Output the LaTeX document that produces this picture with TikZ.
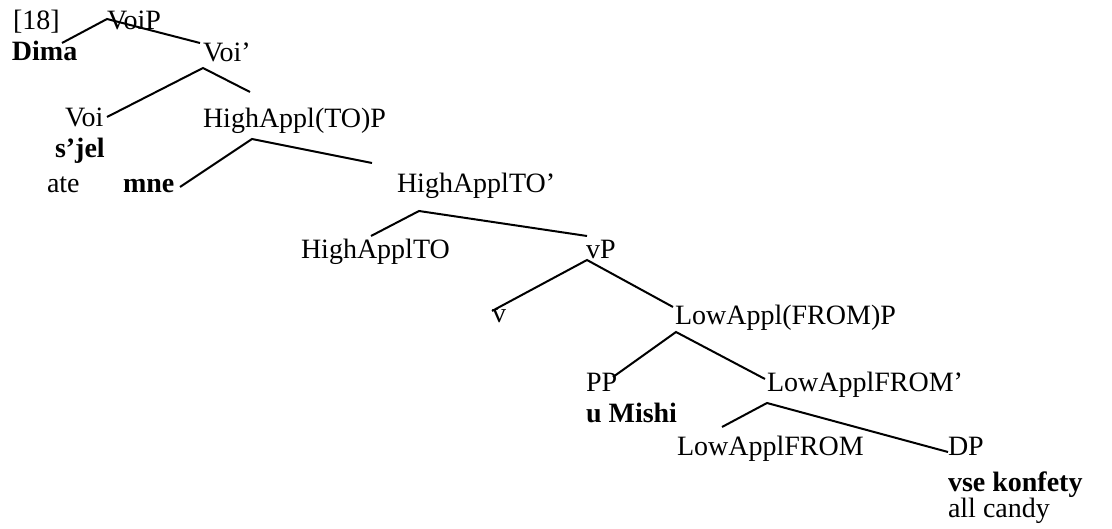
\documentclass[tikz,border=0pt]{standalone}
\usepackage{fontspec}
\setmainfont{Liberation Serif}
\begin{document}
\begin{tikzpicture}[x=1pt,y=-1pt,
  lbl/.style={anchor=base west,inner sep=0pt,outer sep=0pt,font=\fontsize{28}{33}\selectfont},
  blbl/.style={lbl,font=\fontsize{28}{33}\selectfont\bfseries},
  branch/.style={line width=2pt}]
\useasboundingbox (0,0) rectangle (1112,529);
% labels
\node[lbl] (ex) at (13,30) {[18]};
\node[lbl] (voip) at (107,30) {VoiP};
\node[blbl] (dima) at (12,61) {Dima};
\node[lbl] (voibar) at (203,62) {Voi’};
\node[lbl] (voi) at (65,127) {Voi};
\node[lbl] (hap) at (203,128) {HighAppl(TO)P};
\node[blbl] (sjel) at (55,158) {s’jel};
\node[lbl] (ate) at (47,193) {ate};
\node[blbl] (mne) at (123,193) {mne};
\node[lbl] (hapbar) at (397,193) {HighApplTO’};
\node[lbl] (hahead) at (301,259) {HighApplTO};
\node[lbl] (vp) at (586,259) {vP};
\node[lbl] (v) at (492,323) {v};
\node[lbl] (lap) at (675,325) {LowAppl(FROM)P};
\node[lbl] (pp) at (586,392) {PP};
\node[lbl] (lapbar) at (767,392) {LowApplFROM’};
\node[blbl] (umishi) at (586,423) {u Mishi};
\node[lbl] (lahead) at (677,456) {LowApplFROM};
\node[lbl] (dp) at (948,456) {DP};
\node[blbl] (vse) at (948,491) {vse konfety};
\node[lbl] (allc) at (948,517) {all candy};
% branch points
\coordinate (voip-b) at (107,19);
\coordinate (dima-t) at (62,43);
\coordinate (voibar-t) at (200,43);
\coordinate (voibar-b) at (203,68);
\coordinate (voi-t) at (107,117);
\coordinate (hap-t) at (250,92);
\coordinate (hap-b) at (252,139);
\coordinate (mne-t) at (180,187);
\coordinate (hapbar-t) at (372,163);
\coordinate (hapbar-b) at (419,211);
\coordinate (hahead-t) at (371,236);
\coordinate (vp-t) at (587,236);
\coordinate (vp-b) at (587,260);
\coordinate (v-t) at (492,311);
\coordinate (lap-t) at (673,307);
\coordinate (lap-b) at (676,332);
\coordinate (pp-t) at (613,377);
\coordinate (lapbar-t) at (765,379);
\coordinate (lapbar-b) at (767,403);
\coordinate (lahead-t) at (722,427);
\coordinate (dp-t) at (948,452);
% branches
\draw[branch] (dima-t) -- (voip-b) -- (voibar-t);
\draw[branch] (voi-t) -- (voibar-b) -- (hap-t);
\draw[branch] (mne-t) -- (hap-b) -- (hapbar-t);
\draw[branch] (hahead-t) -- (hapbar-b) -- (vp-t);
\draw[branch] (v-t) -- (vp-b) -- (lap-t);
\draw[branch] (pp-t) -- (lap-b) -- (lapbar-t);
\draw[branch] (lahead-t) -- (lapbar-b) -- (dp-t);
\end{tikzpicture}
\end{document}
